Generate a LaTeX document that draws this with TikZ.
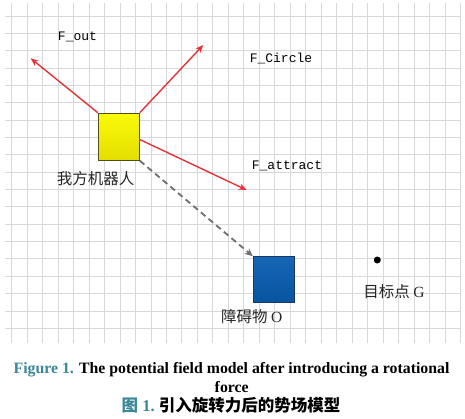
\documentclass[tikz,border=0pt]{standalone}
\usepackage{fontspec}
\setmainfont{Liberation Serif}
\setmonofont{Liberation Mono}
\newfontfamily\cjk{Noto Sans CJK SC}
\usetikzlibrary{arrows.meta}
\definecolor{gridc}{RGB}{216,216,216}
\definecolor{forcered}{RGB}{228,52,58}
\definecolor{dashgray}{RGB}{110,110,110}
\definecolor{capteal}{RGB}{58,135,152}
\definecolor{robotedge}{RGB}{80,80,30}
\definecolor{obsedge}{RGB}{25,55,100}
\tikzset{
  gridline/.style={draw=gridc, line width=0.9pt},
  robotbox/.style={draw=robotedge, line width=1pt, top color={rgb,255:red,250;green,250;blue,10}, bottom color={rgb,255:red,228;green,222;blue,0}, minimum width=41pt, minimum height=47pt, inner sep=0pt},
  obsbox/.style={draw=obsedge, line width=1pt, top color={rgb,255:red,22;green,102;blue,182}, bottom color={rgb,255:red,8;green,84;blue,160}, minimum width=41pt, minimum height=45.6pt, inner sep=0pt},
  force/.style={draw=forcered, line width=1.4pt, -{Stealth[length=8pt,width=6.5pt]}},
  path/.style={draw=dashgray, line width=1.8pt, dash pattern=on 6pt off 4pt, -{Stealth[length=8pt,width=7pt]}},
  flabel/.style={font=\ttfamily\fontsize{13}{15}\selectfont, text=black, inner sep=0pt},
  cjklabel/.style={font=\cjk\fontsize{15.5}{18}\selectfont, text=black!85, inner sep=0pt},
  goaldot/.style={circle, fill=black, minimum size=7pt, inner sep=0pt},
  capfont/.style={font=\bfseries\fontsize{15.8}{18}\selectfont, inner sep=0pt}
}
\begin{document}
\begin{tikzpicture}[x=1pt,y=-1pt]
\useasboundingbox[fill=white] (0,0) rectangle (465,418);
% grid
\foreach \k in {0,...,29} {
  \draw[gridline] ({11.7+15.475*\k},3) -- ({11.7+15.475*\k},343);
}
\foreach \k in {0,...,18} {
  \draw[gridline] (5,{16+17.35*\k}) -- (461,{16+17.35*\k});
}
% nodes
\node[robotbox] (robot) at (118.8,136.7) {};
\node[obsbox] (obs) at (273.8,279.5) {};
\node[goaldot] (goal) at (377.3,260) {};
\coordinate (outtip) at (30.7,58.3);
\coordinate (circtip) at (203.3,45);
\coordinate (atttip) at (246.7,190);
\coordinate (attstart) at (139.3,139.3);
% connectors
\draw[force] (robot.north west) -- (outtip);
\draw[force] (robot.north east) -- (circtip);
\draw[force] (attstart) -- (atttip);
\draw[path] (robot.south east) -- (obs.north west);
% labels
\node[flabel] (lout) at (77.5,36.5) {F\_out};
\node[flabel] (lcirc) at (281,58) {F\_Circle};
\node[flabel] (latt) at (287,165.5) {F\_attract};
\node[cjklabel] (lrobot) at (95.5,179) {我方机器人};
\node[cjklabel] (lobs) at (251.7,316.7) {障碍物\ \textrm{O}};
\node[cjklabel] (lgoal) at (394,292) {目标点\ \textrm{G}};
% caption
\node[capfont] (cap1) at (231.5,369.3) {\textcolor{capteal}{Figure 1.} The potential field model after introducing a rotational};
\node[capfont] (cap2) at (231.7,386.7) {force};
\node[font=\bfseries\fontsize{16.5}{18}\selectfont, inner sep=0pt] (cap3) at (231,405) {\textcolor{capteal}{{\cjk 图}\ 1.}\ {\cjk 引入旋转力后的势场模型}};
\end{tikzpicture}
\end{document}
